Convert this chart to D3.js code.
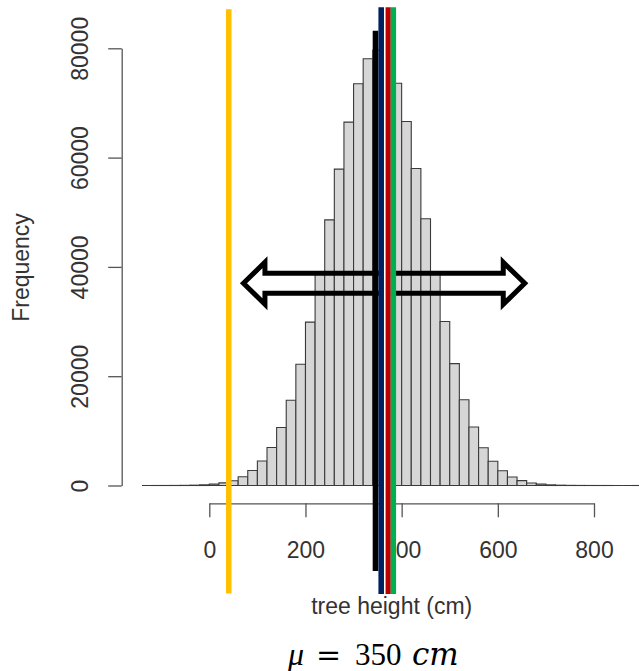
<!DOCTYPE html>
<html>
<head>
<meta charset="utf-8">
<script src="https://cdn.jsdelivr.net/npm/d3@7/dist/d3.min.js"></script>
<style>
  html, body { margin: 0; padding: 0; background: #fff; }
  svg { display: block; }
</style>
</head>
<body>
<svg id="chart" width="639" height="671"></svg>
<script>
// Histogram of simulated tree heights (20 cm bins) with sample-mean markers.
const binStarts = [
  -140, -120, -100, -80, -60, -40, -20, 0, 20, 40,
  60, 80, 100, 120, 140, 160, 180, 200, 220, 240,
  260, 280, 300, 320, 340, 360, 380, 400, 420, 440,
  460, 480, 500, 520, 540, 560, 580, 600, 620, 640,
  660, 680, 700, 720, 740, 760, 780, 800, 820, 840,
  860, 880
];
const binCounts = [
  0, 1, 4, 11, 27, 60, 125, 250, 480, 880,
  1600, 2750, 4480, 6950, 10600, 15600, 22200, 29900, 38800, 48600,
  57900, 66500, 73500, 78100, 79700, 78000, 73600, 66600, 58000, 48800,
  38900, 30000, 22300, 15700, 10700, 6900, 4450, 2700, 1550, 890,
  470, 245, 120, 58, 26, 12, 5, 2, 1, 0,
  0, 1
];
const binWidth = 20;

const xTicks = [0, 200, 400, 600, 800];
const yTicks = [0, 20000, 40000, 60000, 80000];

// Vertical markers (cm)
const markerValues = [40.5, 345.6, 357.5, 372.0, 382.8];

// Double-headed arrow span (cm) and level (frequency)
const arrowFrom = 71;
const arrowTo = 656;
const arrowLevel = 37000;

const xTitle = "tree height (cm)";
const yTitle = "Frequency";

// ---- styles ----
const markerStyles = [
  { color: "#FFC000", top: 9.3, bottom: 593.5, width: 5.5 },
  { color: "#000000", top: 30.7, bottom: 571, width: 5.6 },
  { color: "#002060", top: 7.3, bottom: 594, width: 5.6 },
  { color: "#C00000", top: 7.3, bottom: 594, width: 5.2, halo: true },
  { color: "#00B050", top: 7.3, bottom: 594, width: 5.4 }
];
const textColor = "#333";
const axisColor = "#555";
const sansFont = "'Liberation Sans', Arial, Helvetica, sans-serif";

const svg = d3.select("#chart");
svg.append("rect").attr("width", 639).attr("height", 671).attr("fill", "#fff");

const x = d3.scaleLinear().domain([0, 800]).range([209.3, 594]);
const y = d3.scaleLinear().domain([0, 80000]).range([485.5, 48.3]);

// Bars as closed outlines so that empty bins still show along the baseline
svg.append("g")
  .selectAll("path")
  .data(binStarts.map((s, i) => ({ start: s, count: binCounts[i] })))
  .join("path")
  .attr("d", d => {
    const x0 = x(d.start), x1 = x(d.start + binWidth);
    const y0 = y(0), y1 = y(d.count);
    return `M${x0},${y0}V${y1}H${x1}V${y0}Z`;
  })
  .attr("fill", "#D6D6D6")
  .attr("stroke", "#3a3a3a")
  .attr("stroke-width", 1.1);

// Y axis
const yAxis = svg.append("g")
  .attr("transform", "translate(121.7,0)")
  .call(d3.axisLeft(y).tickValues(yTicks).tickSize(13.5).tickSizeOuter(0).tickFormat(d3.format("d")));
yAxis.select(".domain").attr("stroke", axisColor).attr("stroke-width", 1.3);
yAxis.selectAll(".tick line").attr("stroke", axisColor).attr("stroke-width", 1.3);
yAxis.selectAll(".tick text")
  .attr("transform", "rotate(-90)")
  .attr("x", 0)
  .attr("y", -33.7)
  .attr("dy", null)
  .attr("text-anchor", "middle")
  .attr("fill", textColor)
  .style("font-family", sansFont)
  .style("font-size", "23px");

// X axis
const xAxis = svg.append("g")
  .attr("transform", "translate(0,503.3)")
  .call(d3.axisBottom(x).tickValues(xTicks).tickSize(14).tickSizeOuter(0).tickFormat(d3.format("d")));
xAxis.select(".domain").attr("stroke", axisColor).attr("stroke-width", 1.3);
xAxis.selectAll(".tick line").attr("stroke", axisColor).attr("stroke-width", 1.3);
xAxis.selectAll(".tick text")
  .attr("y", 55)
  .attr("dy", null)
  .attr("fill", textColor)
  .style("font-family", sansFont)
  .style("font-size", "23px");

// Axis titles
svg.append("text")
  .attr("x", 391.7).attr("y", 614)
  .attr("text-anchor", "middle")
  .attr("fill", textColor)
  .style("font-family", sansFont)
  .style("font-size", "23px")
  .text(xTitle);

svg.append("text")
  .attr("transform", "translate(28.5,267.5) rotate(-90)")
  .attr("text-anchor", "middle")
  .attr("fill", textColor)
  .style("font-family", sansFont)
  .style("font-size", "23px")
  .text(yTitle);

// Marker drawing helper
function drawMarker(i) {
  const st = markerStyles[i];
  const xv = x(markerValues[i]);
  if (st.halo) {
    svg.append("line")
      .attr("x1", xv - 0.8).attr("x2", xv - 0.8)
      .attr("y1", st.top).attr("y2", st.bottom)
      .attr("stroke", "#fff").attr("stroke-width", st.width + 1.6);
  }
  svg.append("line")
    .attr("x1", xv).attr("x2", xv)
    .attr("y1", st.top).attr("y2", st.bottom)
    .attr("stroke", st.color)
    .attr("stroke-width", st.width);
}

// Yellow marker first, then the hollow arrow, then remaining markers on top
drawMarker(0);

const ax0 = x(arrowFrom), ax1 = x(arrowTo), ay = y(arrowLevel);
const headLen = 21.5, headHalf = 21, shaftHalf = 10;
const arrowPts = [
  [ax0, ay],
  [ax0 + headLen, ay - headHalf],
  [ax0 + headLen, ay - shaftHalf],
  [ax1 - headLen, ay - shaftHalf],
  [ax1 - headLen, ay - headHalf],
  [ax1, ay],
  [ax1 - headLen, ay + headHalf],
  [ax1 - headLen, ay + shaftHalf],
  [ax0 + headLen, ay + shaftHalf],
  [ax0 + headLen, ay + headHalf]
];
svg.append("path")
  .attr("d", d3.line()(arrowPts) + "Z")
  .attr("fill", "none")
  .attr("stroke", "#000")
  .attr("stroke-width", 5)
  .attr("stroke-linejoin", "miter")
  .attr("stroke-miterlimit", 10);

for (let i = 1; i < markerValues.length; i++) drawMarker(i);

// Population mean caption
const mathSerif = "'Liberation Serif', 'Times New Roman', serif";
const wideSerif = "'DejaVu Serif', serif";
const cap = svg.append("g").attr("fill", "#000");
cap.append("text").attr("x", 288).attr("y", 665)
  .style("font-family", mathSerif).style("font-size", "32px").style("font-style", "italic")
  .text("μ");
cap.append("text").attr("x", 316).attr("y", 665)
  .style("font-family", wideSerif).style("font-size", "30px")
  .text("=");
cap.append("text").attr("x", 355).attr("y", 665)
  .style("font-family", mathSerif).style("font-size", "31px")
  .text("350");
cap.append("text").attr("x", 412).attr("y", 665)
  .style("font-family", wideSerif).style("font-size", "31px").style("font-style", "italic")
  .text("cm");
</script>
</body>
</html>
